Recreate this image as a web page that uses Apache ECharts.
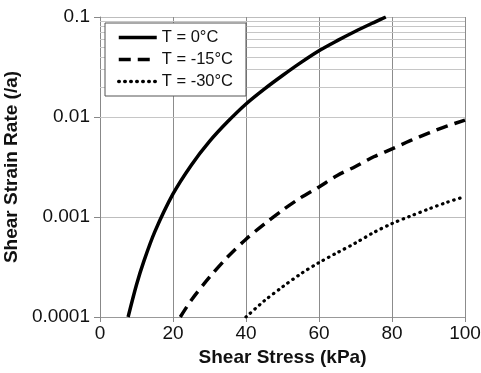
<!DOCTYPE html>
<html>
<head>
<meta charset="utf-8">
<title>Shear strain rate</title>
<script src="https://cdn.jsdelivr.net/npm/echarts@6/dist/echarts.min.js"></script>
<style>
	html, body { margin: 0; padding: 0; background: #fff; }
	#main { width: 481px; height: 373px; }
</style>
</head>
<body>
<div id="main"></div>
<script>
// 读图得到的数据
var legendNames = ['T = 0°C', 'T = -15°C', 'T = -30°C'];

var stress0 = [7.7, 10, 12, 15, 20, 25, 30, 35, 40, 45, 50, 55, 60, 65, 70, 75, 78.3];
var rate0 = [0.0001, 0.00021, 0.00036, 0.00071, 0.0017, 0.0033, 0.0057, 0.009, 0.0135, 0.019, 0.026, 0.035, 0.046, 0.058, 0.072, 0.088, 0.1];

var stress15 = [22, 25, 30, 35, 40, 45, 50, 55, 60, 65, 70, 75, 80, 85, 90, 95, 100];
var rate15 = [0.0001, 0.000147, 0.00025, 0.0004, 0.0006, 0.00085, 0.00117, 0.00156, 0.002, 0.0026, 0.0032, 0.004, 0.0048, 0.0058, 0.0069, 0.0081, 0.0093];

var stress30 = [40, 45, 50, 55, 60, 65, 70, 75, 80, 85, 90, 95, 100];
var rate30 = [0.0001, 0.000145, 0.0002, 0.00027, 0.00035, 0.00044, 0.00055, 0.0007, 0.00086, 0.00102, 0.0012, 0.0014, 0.0016];

// y轴刻度 / 次网格
var yTickValues = [0.0001, 0.001, 0.01, 0.1];
var yTickLabels = ['0.0001', '0.001', '0.01', '0.1'];
var minorLevels = [
	0.0002, 0.0003, 0.0004, 0.0005, 0.0006, 0.0007, 0.0008, 0.0009,
	0.002, 0.003, 0.004, 0.005, 0.006, 0.007, 0.008, 0.009,
	0.02, 0.03, 0.04, 0.05, 0.06, 0.07, 0.08, 0.09
];

function pairs(xs, ys) {
	var out = [];
	for (var i = 0; i < xs.length; i++) {
		out.push([xs[i], ys[i]]);
	}
	return out;
}

var font = 'Liberation Sans, Arial, sans-serif';

var chart = echarts.init(document.getElementById('main'));

var option = {
	animation: false,
	textStyle: { fontFamily: font },
	grid: {
		left: 100,
		right: 16,
		top: 17,
		bottom: 56,
		outerBoundsMode: 'none'
	},
	//图例
	legend: {
		orient: 'vertical',
		left: 105,
		top: 23,
		padding: [6, 13, 6, 12],
		itemGap: 5,
		itemWidth: 38,
		itemHeight: 14,
		backgroundColor: '#fff',
		borderColor: '#555',
		borderWidth: 1,
		data: legendNames,
		itemStyle: { opacity: 0 },
		lineStyle: { width: 3.5 },
		textStyle: {
			color: '#111',
			fontSize: 16.5,
			fontFamily: font
		}
	},
	//x轴
	xAxis: {
		type: 'value',
		min: 0,
		max: 100,
		interval: 20,
		name: 'Shear Stress (kPa)',
		nameLocation: 'middle',
		nameGap: 31,
		nameTextStyle: {
			color: '#111',
			fontSize: 19,
			fontWeight: 'bold',
			fontFamily: font
		},
		axisLine: {
			lineStyle: { color: '#999', width: 1 }
		},
		axisTick: {
			show: true,
			length: 5,
			lineStyle: { color: '#888' }
		},
		axisLabel: {
			color: '#111',
			fontSize: 19,
			margin: 7,
			fontFamily: font
		},
		splitLine: {
			show: true,
			lineStyle: { color: '#8c8c8c', width: 1 }
		}
	},
	//y轴
	yAxis: {
		type: 'log',
		logBase: 10,
		min: 0.0001,
		max: 0.1,
		name: 'Shear Strain Rate (/a)',
		nameLocation: 'middle',
		nameGap: 70,
		nameTextStyle: {
			color: '#111',
			fontSize: 19,
			fontWeight: 'bold',
			fontFamily: font
		},
		axisLine: {
			show: true,
			lineStyle: { color: '#888', width: 1 }
		},
		axisTick: {
			show: true,
			length: 6,
			lineStyle: { color: '#888' }
		},
		axisLabel: {
			color: '#111',
			fontSize: 19,
			margin: 10,
			fontFamily: font,
			formatter: function (v) {
				for (var i = 0; i < yTickValues.length; i++) {
					if (Math.abs(Math.log10(v) - Math.log10(yTickValues[i])) < 1e-6) {
						return yTickLabels[i];
					}
				}
				return '';
			}
		},
		splitLine: {
			show: true,
			lineStyle: { color: '#bdbdbd', width: 1 }
		}
	},
	//系列
	series: [
		{
			name: 'minor',
			type: 'line',
			data: [],
			z: 1,
			silent: true,
			markLine: {
				silent: true,
				z: 1,
				symbol: 'none',
				animation: false,
				label: { show: false },
				lineStyle: { color: '#c6c6c6', width: 1, type: 'solid' },
				data: minorLevels.map(function (v) { return { yAxis: v }; })
			}
		},
		{
			name: legendNames[0],
			type: 'line',
			data: pairs(stress0, rate0),
			smooth: 0.3,
			symbol: 'none',
			z: 5,
			lineStyle: { color: '#000', width: 3.5, type: 'solid' },
			itemStyle: { color: '#000' }
		},
		{
			name: legendNames[1],
			type: 'line',
			data: pairs(stress15, rate15),
			smooth: 0.3,
			symbol: 'none',
			z: 5,
			lineStyle: { color: '#000', width: 3.5, type: [12, 7], cap: 'butt' },
			itemStyle: { color: '#000' }
		},
		{
			name: legendNames[2],
			type: 'line',
			data: pairs(stress30, rate30),
			smooth: 0.3,
			symbol: 'none',
			z: 5,
			lineStyle: { color: '#000', width: 3.2, type: [0.5, 5.5], cap: 'round' },
			itemStyle: { color: '#000' }
		}
	]
};

chart.setOption(option);
</script>
</body>
</html>
